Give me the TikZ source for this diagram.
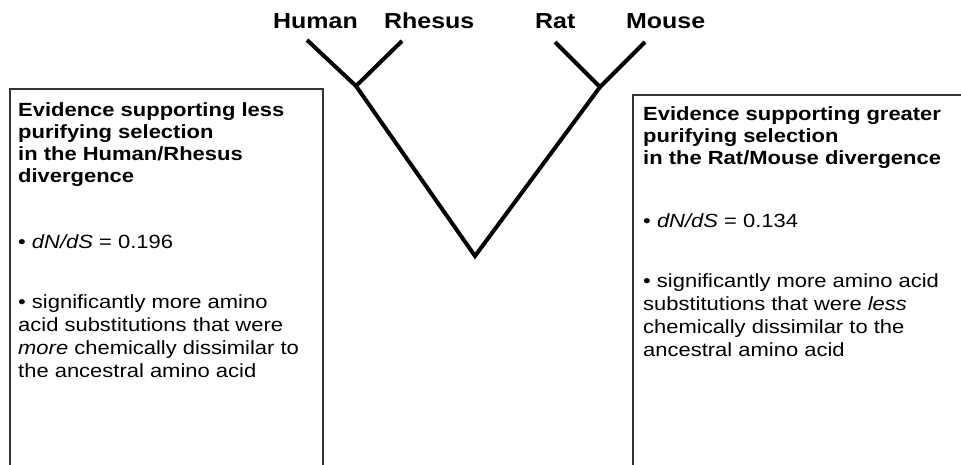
\documentclass[tikz,border=0pt]{standalone}
\usepackage{fontspec}
\setmainfont{Liberation Sans}[FakeStretch=1.15]
\tikzset{
  branch/.style={line width=4pt, line cap=butt, line join=miter},
  evbox/.style={draw=black!80, line width=1.2pt},
  taxon/.style={font=\fontsize{21.7}{24}\selectfont\bfseries, anchor=base west, inner sep=0pt},
  headtxt/.style={font=\fontsize{19.1}{22}\selectfont\bfseries, align=left, anchor=base west, inner sep=0pt},
  bodytxt/.style={font=\fontsize{19.1}{23}\selectfont, align=left, anchor=base west, inner sep=0pt}
}
\begin{document}
\begin{tikzpicture}[x=1pt,y=-1pt]
\useasboundingbox (0,0) rectangle (961,464);
\clip (0,0) rectangle (961,464);
% taxa labels
\node[taxon] (lhuman) at (273,28) {Human};
\node[taxon] (lrhesus) at (384,28) {Rhesus};
\node[taxon] (lrat) at (535,28) {Rat};
\node[taxon] (lmouse) at (626,28) {Mouse};
% tree
\coordinate (human) at (307,40);
\coordinate (rhesus) at (402,41);
\coordinate (hr) at (356,86);
\coordinate (root) at (475,256);
\coordinate (rat) at (555,42);
\coordinate (mouse) at (645,42);
\coordinate (rm) at (600,87);
\draw[branch] (human) -- (hr) -- (rhesus);
\draw[branch] (hr) -- (root) -- (rm);
\draw[branch] (rat) -- (rm) -- (mouse);
% boxes
\draw[evbox] (10,89) rectangle (323,480);
\draw[evbox] (633,95) rectangle (980,480);
% left box text (anchors at the baseline of the last line)
\node[headtxt] (lhead) at (18,182) {Evidence supporting less\\purifying selection\\in the Human/Rhesus\\divergence};
\node[bodytxt] (ldnds) at (18,248) {\textbullet\ \textit{dN/dS} = 0.196};
\node[bodytxt] (lbody) at (18,377) {\textbullet\ significantly more amino\\acid substitutions that were\\\textit{more} chemically dissimilar to\\the ancestral amino acid};
% right box text
\node[headtxt] (rhead) at (643,164) {Evidence supporting greater\\purifying selection\\in the Rat/Mouse divergence};
\node[bodytxt] (rdnds) at (643,227) {\textbullet\ \textit{dN/dS} = 0.134};
\node[bodytxt] (rbody) at (643,356) {\textbullet\ significantly more amino acid\\substitutions that were \textit{less}\\chemically dissimilar to the\\ancestral amino acid};
\end{tikzpicture}
\end{document}
